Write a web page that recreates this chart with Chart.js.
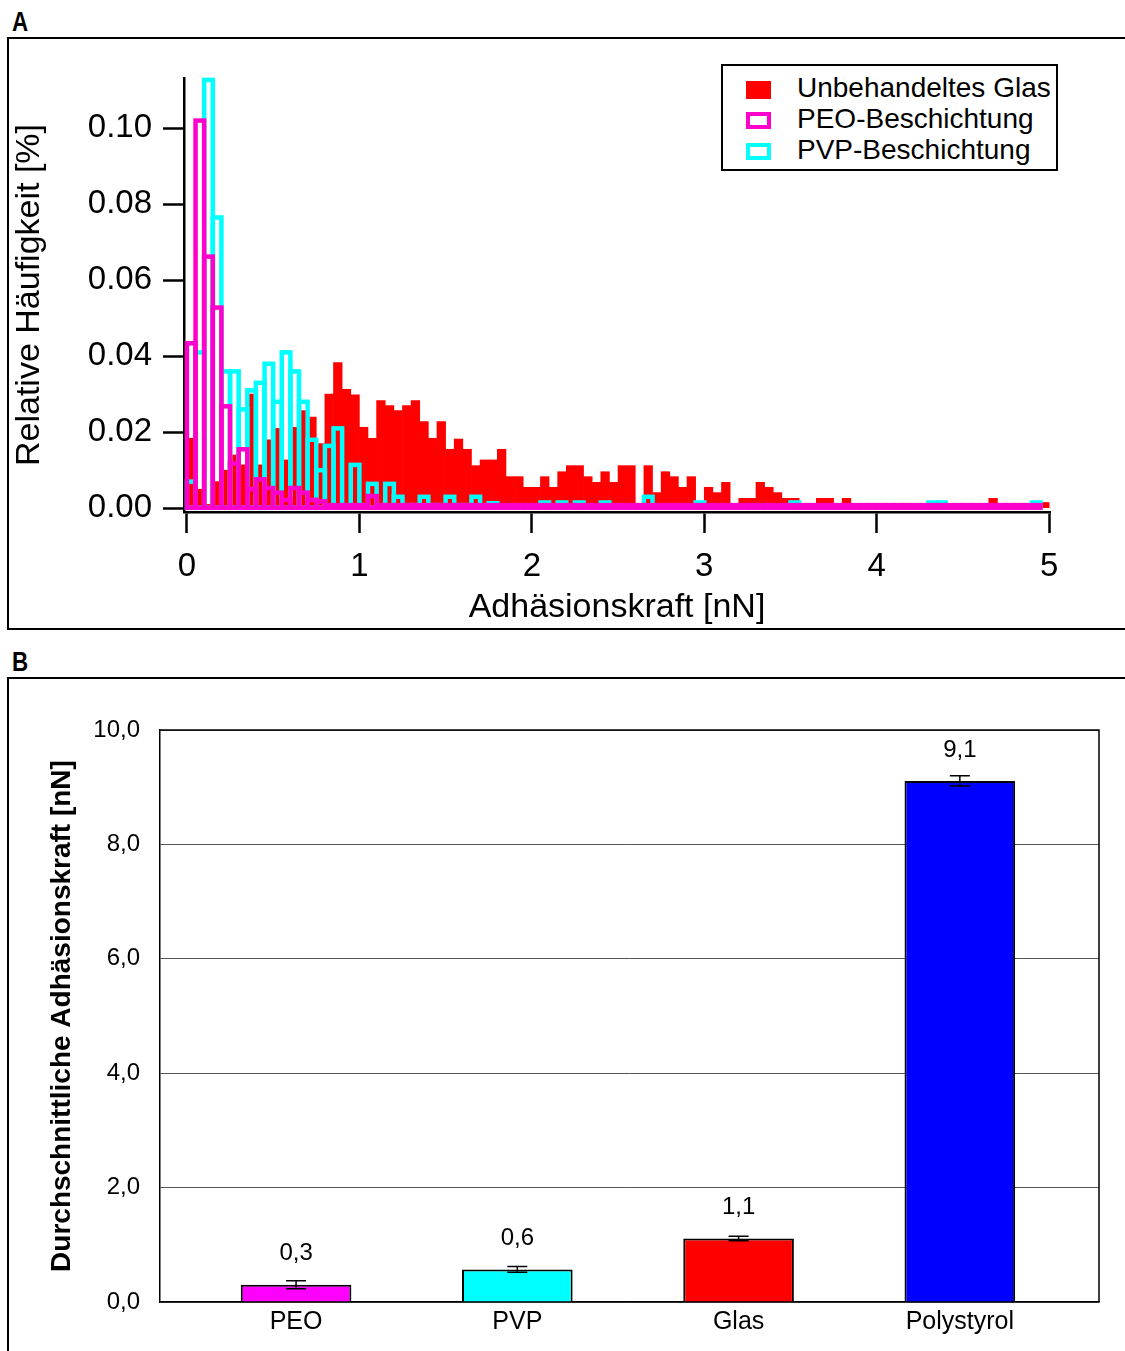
<!DOCTYPE html>
<html lang="de">
<head>
    <meta charset="UTF-8">
    <title>Adhäsionskraft</title>
    <script src="https://cdn.jsdelivr.net/npm/chart.js"></script>
    <style>
        body {
            margin: 0;
            width: 1125px;
            height: 1351px;
            overflow: hidden;
            background: #fff;
            position: relative;
            font-family: 'Liberation Sans', Arial, sans-serif;
        }
        .frame {
            position: absolute;
            left: 7px;
            width: 1200px;
            border: 2px solid #000;
        }
        .panel-tag {
            position: absolute;
            left: 12px;
            font-weight: bold;
            font-size: 28px;
            line-height: 28px;
            transform: scaleX(0.8);
            transform-origin: left top;
        }
        canvas { position: absolute; left: 0; }
        .legend {
            position: absolute;
            left: 721px;
            top: 64px;
            width: 337px;
            height: 107px;
            box-sizing: border-box;
            border: 2px solid #000;
            background: #fff;
            z-index: 2;
        }
        .legend .sw {
            position: absolute;
            left: 23px;
            width: 25px;
            box-sizing: border-box;
        }
        .legend .txt {
            position: absolute;
            left: 74px;
            font-size: 28px;
            line-height: 32px;
            white-space: nowrap;
        }
    </style>
</head>
<body>
    <div class="panel-tag" style="top:8px">A</div>
    <div class="frame" style="top:37px; height:589px"></div>
    <div class="panel-tag" style="top:648px">B</div>
    <div class="frame" style="top:677px; height:800px"></div>

    <canvas id="histChart" width="1125" height="640" style="top:0"></canvas>
    <div class="legend">
        <div class="sw" style="top:15px; height:18px; background:#ff0000"></div>
        <div class="txt" style="top:6px">Unbehandeltes Glas</div>
        <div class="sw" style="top:46px; height:17px; border:4px solid #ff00cc"></div>
        <div class="txt" style="top:37px">PEO-Beschichtung</div>
        <div class="sw" style="top:77px; height:17px; border:4px solid #00ffff"></div>
        <div class="txt" style="top:68px">PVP-Beschichtung</div>
    </div>

    <canvas id="barChart" width="1125" height="671" style="top:680px"></canvas>

    <script>
        // Histogramm: relative Häufigkeit je 0,05 nN-Klasse (0 ... 5 nN)
        const binWidth = 0.05;

        const glas = [
            0.0184, 0.0050, 0.0010, 0.0070, 0.0100, 0.0140, 0.0114, 0.0300, 0.0114, 0.0180,
            0.0210, 0.0127, 0.0213, 0.0257, 0.0240, 0.0170, 0.0300, 0.0383, 0.0313, 0.0298,
            0.0213, 0.0184, 0.0283, 0.0270, 0.0257, 0.0270, 0.0283, 0.0228, 0.0184, 0.0228,
            0.0155, 0.0182, 0.0155, 0.0112, 0.0127, 0.0127, 0.0155, 0.0083, 0.0083, 0.0055,
            0.0055, 0.0083, 0.0055, 0.0096, 0.0112, 0.0112, 0.0083, 0.0068, 0.0096, 0.0068,
            0.0112, 0.0112, 0.0000, 0.0112, 0.0041, 0.0096, 0.0083, 0.0055, 0.0083, 0.0000,
            0.0055, 0.0041, 0.0068, 0.0000, 0.0026, 0.0026, 0.0068, 0.0055, 0.0041, 0.0026,
            0.0026, 0.0000, 0.0000, 0.0026, 0.0026, 0.0000, 0.0026, 0.0000, 0.0000, 0.0000,
            0.0000, 0.0000, 0.0000, 0.0000, 0.0000, 0.0000, 0.0000, 0.0000, 0.0000, 0.0000,
            0.0000, 0.0000, 0.0000, 0.0026, 0.0000, 0.0000, 0.0000, 0.0000, 0.0000, 0.0015
        ];

        const peo = [
            0.0434, 0.1020, 0.0662, 0.0528, 0.0268, 0.0118, 0.0155, 0.0050, 0.0076, 0.0053,
            0.0041, 0.0022, 0.0053, 0.0041, 0.0022, 0.0018, 0.0008, 0.0008, 0.0008, 0.0008,
            0.0008, 0.0032, 0.0008, 0.0008, 0.0008, 0.0008, 0.0008, 0.0008, 0.0008, 0.0008,
            0.0008, 0.0008, 0.0008, 0.0008, 0.0008, 0.0008, 0.0008, 0.0008, 0.0008, 0.0008,
            0.0008, 0.0008, 0.0008, 0.0008, 0.0008, 0.0008, 0.0008, 0.0008, 0.0008, 0.0008,
            0.0008, 0.0008, 0.0008, 0.0008, 0.0008, 0.0008, 0.0008, 0.0008, 0.0008, 0.0008,
            0.0008, 0.0008, 0.0008, 0.0008, 0.0008, 0.0008, 0.0008, 0.0008, 0.0008, 0.0008,
            0.0008, 0.0008, 0.0008, 0.0008, 0.0008, 0.0008, 0.0008, 0.0008, 0.0008, 0.0008,
            0.0008, 0.0008, 0.0008, 0.0008, 0.0008, 0.0008, 0.0008, 0.0008, 0.0008, 0.0008,
            0.0008, 0.0008, 0.0008, 0.0008, 0.0008, 0.0008, 0.0008, 0.0008, 0.0008, 0.0000
        ];

        const pvp = [
            0.0070, 0.0410, 0.1127, 0.0765, 0.0360, 0.0360, 0.0260, 0.0310, 0.0330, 0.0380,
            0.0280, 0.0410, 0.0360, 0.0280, 0.0180, 0.0100, 0.0164, 0.0210, 0.0008, 0.0114,
            0.0008, 0.0064, 0.0008, 0.0064, 0.0030, 0.0008, 0.0008, 0.0030, 0.0008, 0.0008,
            0.0030, 0.0008, 0.0008, 0.0030, 0.0008, 0.0013, 0.0000, 0.0000, 0.0000, 0.0000,
            0.0000, 0.0015, 0.0000, 0.0015, 0.0000, 0.0015, 0.0000, 0.0000, 0.0015, 0.0000,
            0.0000, 0.0000, 0.0000, 0.0030, 0.0000, 0.0000, 0.0000, 0.0000, 0.0000, 0.0015,
            0.0000, 0.0000, 0.0000, 0.0000, 0.0000, 0.0000, 0.0000, 0.0000, 0.0000, 0.0000,
            0.0015, 0.0000, 0.0000, 0.0000, 0.0000, 0.0000, 0.0000, 0.0000, 0.0000, 0.0000,
            0.0000, 0.0000, 0.0000, 0.0000, 0.0000, 0.0000, 0.0015, 0.0015, 0.0000, 0.0000,
            0.0000, 0.0000, 0.0000, 0.0000, 0.0000, 0.0000, 0.0000, 0.0000, 0.0015, 0.0000
        ];

        const histXTicks = [0, 1, 2, 3, 4, 5];
        const histYTicks = [0, 0.02, 0.04, 0.06, 0.08, 0.10];

        // Mittelwerte mit Fehlerbalken
        const surfaces = ['PEO', 'PVP', 'Glas', 'Polystyrol'];
        const meanForce = [0.30, 0.57, 1.11, 9.11];
        const forceError = [0.07, 0.05, 0.04, 0.09];
        const surfaceColors = ['#ff00ff', '#00ffff', '#ff0000', '#0000ff'];
        const forceTicks = [0, 2, 4, 6, 8, 10];

        Chart.defaults.font.family = "'Liberation Sans', Arial, sans-serif";
        Chart.defaults.color = '#000';

        const toPoints = arr => arr.map((v, i) => ({ x: (i + 0.5) * binWidth, y: v }));

        // Umriss-Histogramme: Linie mittig auf den Klassengrenzen
        const outlineBars = {
            id: 'outlineBars',
            afterDatasetDraw(chart, args) {
                const ds = chart.data.datasets[args.index];
                if (!ds.outline) return;
                const ctx = chart.ctx;
                ctx.save();
                ctx.strokeStyle = ds.outline;
                ctx.lineWidth = 4.5;
                args.meta.data.forEach((bar, i) => {
                    if (!ds.data[i].y) return;
                    const p = bar.getProps(['x', 'y', 'base', 'width'], true);
                    ctx.strokeRect(p.x - p.width / 2, p.y, p.width, p.base - p.y);
                });
                ctx.restore();
            }
        };

        const histBar = { grouped: false, barPercentage: 1, categoryPercentage: 1, borderWidth: 0 };

        new Chart(document.getElementById('histChart'), {
            type: 'bar',
            data: {
                datasets: [
                    { ...histBar, label: 'PEO-Beschichtung', data: toPoints(peo), backgroundColor: 'rgba(0,0,0,0)', outline: '#ff00cc' },
                    { ...histBar, label: 'PVP-Beschichtung', data: toPoints(pvp), backgroundColor: 'rgba(0,0,0,0)', outline: '#00ffff' },
                    { ...histBar, label: 'Unbehandeltes Glas', data: toPoints(glas), backgroundColor: '#ff0000' }
                ]
            },
            options: {
                responsive: false,
                animation: false,
                layout: { padding: { top: 78, right: 75, bottom: 8, left: 0 } },
                plugins: { legend: { display: false }, tooltip: { enabled: false } },
                scales: {
                    x: {
                        type: 'linear',
                        offset: false,
                        min: -0.017,
                        max: 5.005,
                        afterBuildTicks: s => { s.ticks = histXTicks.map(v => ({ value: v })); },
                        afterFit: s => { s.height = 120; },
                        ticks: { callback: v => String(v), padding: 14, font: { size: 33 }, autoSkip: false, maxRotation: 0 },
                        grid: { offset: false, drawOnChartArea: false, tickLength: 21, tickWidth: 2.5, tickColor: '#000' },
                        border: { color: '#000', width: 2.5 },
                        title: { display: true, text: 'Adhäsionskraft [nN]', font: { size: 34 }, padding: { top: 0, bottom: 4 } }
                    },
                    y: {
                        min: -0.001,
                        max: 0.1132,
                        afterBuildTicks: s => { s.ticks = histYTicks.map(v => ({ value: v })); },
                        afterFit: s => { s.width = 184; },
                        ticks: { callback: v => v.toFixed(2), padding: 11, font: { size: 33 }, autoSkip: false },
                        grid: { drawOnChartArea: false, tickLength: 21, tickWidth: 2.5, tickColor: '#000' },
                        border: { color: '#000', width: 2.5 },
                        title: { display: true, text: 'Relative Häufigkeit [%]', font: { size: 34 }, padding: { top: 9, bottom: 0 } }
                    }
                }
            },
            plugins: [outlineBars]
        });

        // Rahmen, Fehlerbalken und Werte über den Balken
        const barDecor = {
            id: 'barDecor',
            afterDatasetsDraw(chart) {
                const { ctx, chartArea: a, scales: { x, y } } = chart;
                ctx.save();
                ctx.strokeStyle = '#000';
                ctx.lineWidth = 1.5;
                ctx.beginPath();
                ctx.moveTo(a.left, a.top);
                ctx.lineTo(a.right, a.top);
                ctx.lineTo(a.right, a.bottom);
                ctx.stroke();

                ctx.fillStyle = '#000';
                ctx.font = "24px 'Liberation Sans', Arial, sans-serif";
                ctx.textAlign = 'center';
                ctx.textBaseline = 'middle';
                meanForce.forEach((m, i) => {
                    const px = x.getPixelForValue(i);
                    const hi = y.getPixelForValue(m + forceError[i]);
                    const lo = y.getPixelForValue(m - forceError[i]);
                    ctx.beginPath();
                    ctx.moveTo(px, hi); ctx.lineTo(px, lo);
                    ctx.moveTo(px - 10, hi); ctx.lineTo(px + 10, hi);
                    ctx.moveTo(px - 10, lo); ctx.lineTo(px + 10, lo);
                    ctx.stroke();
                    ctx.fillText(m.toFixed(1).replace('.', ','), px, y.getPixelForValue(m) - 31);
                });
                ctx.restore();
            }
        };

        new Chart(document.getElementById('barChart'), {
            type: 'bar',
            data: {
                datasets: [{
                    label: 'Durchschnittliche Adhäsionskraft',
                    data: meanForce.map((m, i) => ({ x: i, y: m })),
                    backgroundColor: surfaceColors,
                    borderColor: '#000',
                    borderWidth: 2,
                    barPercentage: 0.5,
                    categoryPercentage: 1
                }]
            },
            options: {
                responsive: false,
                animation: false,
                layout: { padding: { top: 50, right: 26, bottom: 0, left: 0 } },
                plugins: { legend: { display: false }, tooltip: { enabled: false } },
                scales: {
                    x: {
                        type: 'linear',
                        offset: false,
                        min: -0.615,
                        max: 3.629,
                        afterBuildTicks: s => { s.ticks = surfaces.map((_, i) => ({ value: i })); },
                        afterFit: s => { s.height = 49; },
                        ticks: { callback: v => surfaces[v] ?? '', padding: 5, font: { size: 25 }, autoSkip: false, maxRotation: 0 },
                        grid: { display: false, drawTicks: false, offset: false },
                        border: { color: '#000', width: 1.5 }
                    },
                    y: {
                        min: 0,
                        max: 10,
                        afterBuildTicks: s => { s.ticks = forceTicks.map(v => ({ value: v })); },
                        afterFit: s => { s.width = 160; },
                        ticks: { callback: v => v.toFixed(1).replace('.', ','), padding: 20, font: { size: 24 } },
                        grid: { color: '#555', lineWidth: 1, drawTicks: false },
                        border: { color: '#000', width: 1.5 },
                        title: {
                            display: true,
                            text: 'Durchschnittliche Adhäsionskraft [nN]',
                            font: { size: 28, weight: 'bold' },
                            padding: { top: 45, bottom: 0 }
                        }
                    }
                }
            },
            plugins: [barDecor]
        });
    </script>
</body>
</html>
